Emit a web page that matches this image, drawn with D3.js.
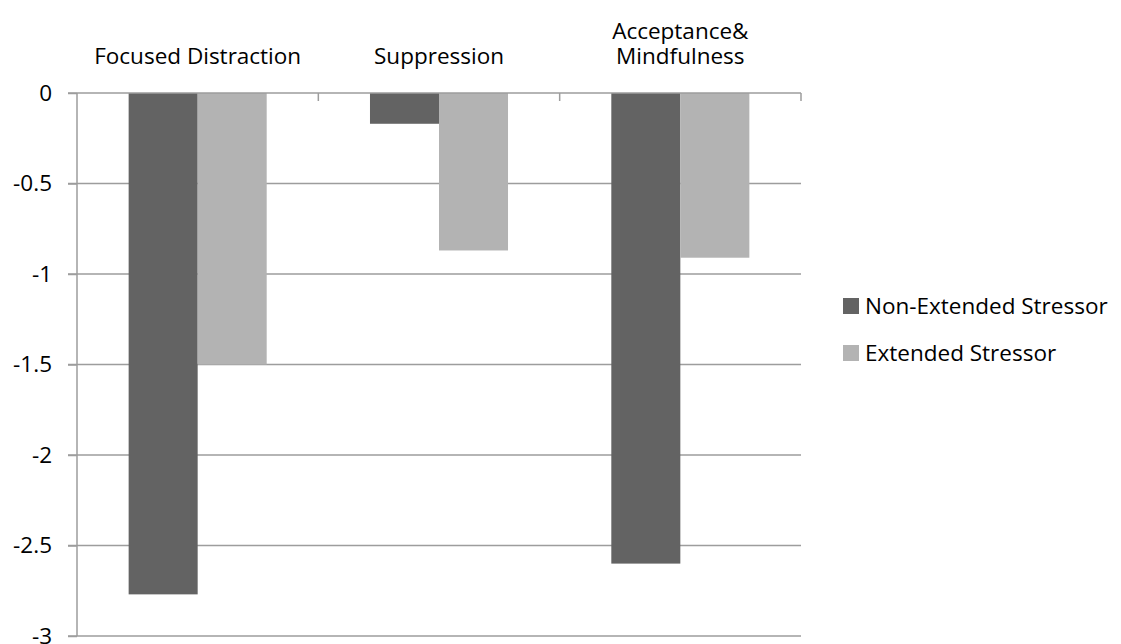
<!DOCTYPE html>
<html>
<head>
<meta charset="utf-8">
<script src="https://cdn.jsdelivr.net/npm/d3@7"></script>
<style>
  html, body { margin: 0; padding: 0; background: #fff; }
  svg text { font-family: "Open Sans", Lato, sans-serif; fill: #000; }
</style>
</head>
<body>
<svg id="chart" width="1121" height="644"></svg>
<script>
// Strategy categories (multi-line labels split on "\n")
const categories = ["Focused Distraction", "Suppression", "Acceptance&\nMindfulness"];
const seriesNames = ["Non-Extended Stressor", "Extended Stressor"];
const nonExtended = [-2.77, -0.17, -2.6];
const extended = [-1.5, -0.87, -0.91];
const yTicks = [0, -0.5, -1, -1.5, -2, -2.5, -3];
const seriesColors = ["#636363", "#b3b3b3"];

const svg = d3.select("#chart");
const plotLeft = 77, plotRight = 801, plotTop = 93, plotBottom = 636;
const fontSize = 22.5;
const lineGap = 25;
const gridColor = "#9d9d9d";

const x0 = d3.scaleBand().domain(categories).range([plotLeft, plotRight])
  .paddingInner(0.428).paddingOuter(0.214);
const x1 = d3.scaleBand().domain(seriesNames).range([0, x0.bandwidth()]);
const y = d3.scaleLinear().domain([-3, 0]).range([plotBottom, plotTop]);
const color = d3.scaleOrdinal().domain(seriesNames).range(seriesColors);

// horizontal gridlines
svg.append("g").selectAll("line").data(yTicks.filter(d => d !== 0)).join("line")
  .attr("x1", plotLeft - 9).attr("x2", plotRight)
  .attr("y1", d => y(d)).attr("y2", d => y(d))
  .attr("stroke", gridColor).attr("stroke-width", 1.5);

// bars
const rows = categories.map((c, i) => ({ c, vals: [nonExtended[i], extended[i]] }));
const groups = svg.append("g").selectAll("g").data(rows).join("g")
  .attr("transform", d => `translate(${x0(d.c)},0)`);
groups.selectAll("rect")
  .data(d => d.vals.map((v, j) => ({ s: seriesNames[j], v })))
  .join("rect")
  .attr("x", d => x1(d.s))
  .attr("width", x1.bandwidth())
  .attr("y", y(0))
  .attr("height", d => y(d.v) - y(0))
  .attr("fill", d => color(d.s));

// y axis (plain hyphen-minus labels)
const yAxis = d3.axisLeft(y).tickValues(yTicks).tickSize(9).tickPadding(16)
  .tickFormat(d => String(d));
const ya = svg.append("g").attr("transform", `translate(${plotLeft},0)`).call(yAxis);
ya.selectAll("path, line").attr("stroke", gridColor).attr("stroke-width", 1.5);
ya.select(".domain").attr("d", `M0,${plotTop}V${plotBottom}`);
ya.selectAll("text").attr("font-size", fontSize).attr("font-family", "Open Sans").attr("fill", "#000");

// category axis along the zero line, ticks between categories
const xa = svg.append("g");
xa.append("line").attr("x1", plotLeft - 9).attr("x2", plotRight)
  .attr("y1", y(0)).attr("y2", y(0))
  .attr("stroke", gridColor).attr("stroke-width", 1.5);
const step = x0.step();
const boundaries = categories.map(c => x0(c) - x0.paddingOuter() * step + step);
xa.selectAll("line.tk").data(boundaries).join("line").attr("class", "tk")
  .attr("x1", d => d).attr("x2", d => d)
  .attr("y1", y(0)).attr("y2", y(0) + 8)
  .attr("stroke", gridColor).attr("stroke-width", 1.5);

// category labels above the plot
const lab = svg.append("g").selectAll("text").data(categories).join("text")
  .attr("x", d => x0(d) + x0.bandwidth() / 2)
  .attr("y", 64)
  .attr("text-anchor", "middle")
  .attr("font-size", fontSize);
lab.each(function (d) {
  const lines = d.split("\n");
  const t = d3.select(this);
  lines.forEach((ln, k) => {
    t.append("tspan").attr("x", t.attr("x"))
      .attr("dy", k === 0 ? -(lines.length - 1) * lineGap : lineGap)
      .text(ln);
  });
});

// legend
const lg = svg.append("g").attr("transform", "translate(843,298)");
const items = lg.selectAll("g").data(seriesNames).join("g")
  .attr("transform", (d, i) => `translate(0,${i * 47})`);
items.append("rect").attr("width", 16).attr("height", 16).attr("fill", d => color(d));
items.append("text").attr("x", 22).attr("y", 16).attr("font-size", fontSize).text(d => d);
</script>
</body>
</html>
